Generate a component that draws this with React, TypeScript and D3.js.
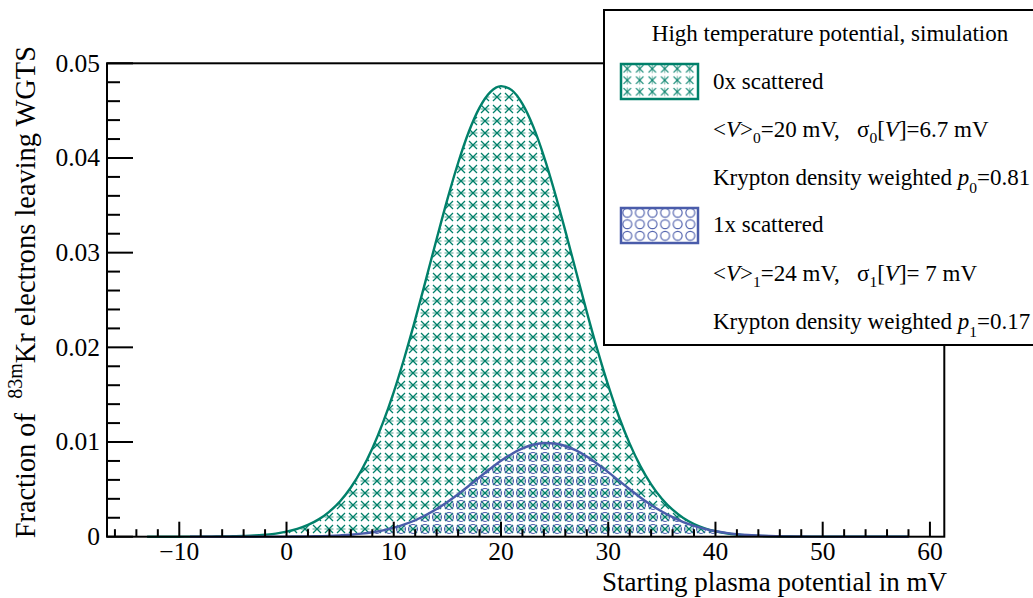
import React from "react";
import * as d3 from "d3";

// ---- data ----
const potential0 = [-13, -12, -11, -10, -9, -8, -7, -6, -5, -4, -3, -2, -1, 0, 1, 2, 3, 4, 5, 6, 7, 8, 9, 10, 11, 12, 13, 14, 15, 16, 17, 18, 19, 20, 21, 22, 23, 24, 25, 26, 27, 28, 29, 30, 31, 32, 33, 34, 35, 36, 37, 38, 39, 40, 41, 42, 43, 44, 45, 46, 47, 48, 49, 50, 51, 52, 53, 54, 55, 56, 57, 58];
const fraction0 = [0, 0, 0, 0.000002, 0.000004, 0.000008, 0.000013, 0.000024, 0.000043, 0.000074, 0.00012, 0.00021, 0.00033, 0.00053, 0.00082, 0.00124, 0.00183, 0.00265, 0.00375, 0.0052, 0.00704, 0.00932, 0.01207, 0.01528, 0.01893, 0.02292, 0.02715, 0.03145, 0.03563, 0.03947, 0.04277, 0.04532, 0.04696, 0.04759, 0.04717, 0.04572, 0.04334, 0.04018, 0.03643, 0.0323, 0.02801, 0.02375, 0.0197, 0.01598, 0.01267, 0.00983, 0.00746, 0.00553, 0.00401, 0.00285, 0.00198, 0.00134, 0.00089, 0.00058, 0.00037, 0.00023, 0.00014, 0.000082, 0.000048, 0.000027, 0.000015, 0.000008, 0.000004, 0.000002, 0, 0, 0, 0, 0, 0, 0, 0];
const potential1 = [-9, -8, -7, -6, -5, -4, -3, -2, -1, 0, 1, 2, 3, 4, 5, 6, 7, 8, 9, 10, 11, 12, 13, 14, 15, 16, 17, 18, 19, 20, 21, 22, 23, 24, 25, 26, 27, 28, 29, 30, 31, 32, 33, 34, 35, 36, 37, 38, 39, 40, 41, 42, 43, 44, 45, 46, 47, 48, 49, 50, 51, 52, 53, 54, 55, 56, 57, 58];
const fraction1 = [0, 0, 0, 0, 0, 0, 0.000002, 0.000003, 0.000006, 0.000011, 0.000019, 0.000033, 0.000054, 0.000087, 0.00014, 0.00021, 0.00032, 0.00047, 0.00067, 0.00095, 0.0013, 0.00174, 0.00229, 0.00293, 0.00367, 0.00449, 0.00537, 0.00628, 0.00717, 0.00801, 0.00874, 0.00932, 0.00971, 0.00989, 0.00984, 0.00958, 0.00911, 0.00846, 0.00768, 0.00682, 0.00591, 0.00501, 0.00415, 0.00336, 0.00266, 0.00206, 0.00155, 0.00115, 0.00083, 0.00058, 0.0004, 0.00027, 0.00018, 0.00012, 0.000072, 0.000045, 0.000027, 0.000016, 0.000009, 0.000005, 0.000003, 0.000002, 0, 0, 0, 0, 0, 0];

const xTickValues = [-10, 0, 10, 20, 30, 40, 50, 60];
const xTickLabels = ["\u221210", "0", "10", "20", "30", "40", "50", "60"];
const yTickValues = [0, 0.01, 0.02, 0.03, 0.04, 0.05];
const yTickLabels = ["0", "0.01", "0.02", "0.03", "0.04", "0.05"];

const X_DOMAIN: [number, number] = [-16.74, 61.34];
const Y_DOMAIN: [number, number] = [0, 0.05];

// ---- layout / style ----
const W = 1033;
const H = 598;
const M = { left: 107, right: 944.3, top: 63.3, bottom: 536.7 };
const GREEN = "#00806a";
const GREEN_LIGHT = "#7fbcae";
const BLUE = "#4a5caa";
const FONT = "'Liberation Serif', 'Times New Roman', serif";

type P = [number, number];

export default function App() {
  const x = d3.scaleLinear().domain(X_DOMAIN).range([M.left, M.right]);
  const y = d3.scaleLinear().domain(Y_DOMAIN).range([M.bottom, M.top]);

  const pts0: P[] = potential0.map((p, i) => [p, fraction0[i]]);
  const pts1: P[] = potential1.map((p, i) => [p, fraction1[i]]);

  const area = d3
    .area<P>()
    .x((d) => x(d[0]))
    .y0(y(0))
    .y1((d) => y(d[1]))
    .curve(d3.curveMonotoneX);
  const line = d3
    .line<P>()
    .x((d) => x(d[0]))
    .y((d) => y(d[1]))
    .curve(d3.curveMonotoneX);

  const xMinor = d3.range(-16, 61, 2).filter((v) => v % 10 !== 0);
  const yMinor = d3.range(0, 51, 2).map((v) => v / 1000).filter((v, i) => i % 5 !== 0);

  const tickFont = 25.5;
  const xTitleFont = 27;
  const yTitleFont = 28.4;
  const legFont = 23;
  const subFont = 15.5;

  const legX = 713;

  return (
    <svg
      width={W}
      height={H}
      style={{ position: "absolute", left: 0, top: 0, background: "#fff" }}
      fontFamily={FONT}
    >
      <defs>
        <pattern id="pGreen" patternUnits="userSpaceOnUse" width={12} height={12} x={-1} y={-5}>
          <line x1={1.5} y1={6} x2={10.5} y2={6} stroke={GREEN_LIGHT} strokeWidth={1.4} />
          <line x1={2} y1={2} x2={10} y2={10} stroke={GREEN} strokeWidth={1.2} />
          <line x1={10} y1={2} x2={2} y2={10} stroke={GREEN} strokeWidth={1.2} />
        </pattern>
        <pattern id="pBlue" patternUnits="userSpaceOnUse" width={12} height={12} x={-1} y={-5}>
          <circle cx={6} cy={6} r={4.5} fill="none" stroke={BLUE} strokeWidth={1.1} />
        </pattern>
        <pattern id="pGreenL" patternUnits="userSpaceOnUse" width={12.5} height={11.5} x={621} y={63}>
          <line x1={6.25} y1={1.5} x2={6.25} y2={10} stroke={GREEN_LIGHT} strokeWidth={1.2} />
          <line x1={2.5} y1={2} x2={10} y2={9.5} stroke={GREEN} strokeWidth={1.1} />
          <line x1={10} y1={2} x2={2.5} y2={9.5} stroke={GREEN} strokeWidth={1.1} />
        </pattern>
        <pattern id="pBlueL" patternUnits="userSpaceOnUse" width={12.6} height={11.5} x={621} y={207}>
          <circle cx={6.3} cy={5.75} r={4.5} fill="none" stroke={BLUE} strokeWidth={1.1} />
        </pattern>
      </defs>

      {/* fills and curves */}
      <path d={area(pts0) || ""} fill="url(#pGreen)" stroke="none" />
      <path d={line(pts0) || ""} fill="none" stroke={GREEN} strokeWidth={2.4} />
      <path d={area(pts1) || ""} fill="url(#pBlue)" stroke="none" />
      <path d={line(pts1) || ""} fill="none" stroke={BLUE} strokeWidth={2.4} />

      {/* frame */}
      <rect
        x={M.left}
        y={M.top}
        width={M.right - M.left}
        height={M.bottom - M.top}
        fill="none"
        stroke="#000"
        strokeWidth={2}
      />

      {/* x ticks */}
      {xTickValues.map((v) => (
        <line key={"xM" + v} x1={x(v)} x2={x(v)} y1={M.bottom} y2={M.bottom - 15} stroke="#000" strokeWidth={2} />
      ))}
      {xMinor.map((v) => (
        <line key={"xm" + v} x1={x(v)} x2={x(v)} y1={M.bottom} y2={M.bottom - 7.5} stroke="#000" strokeWidth={2} />
      ))}
      {xTickValues.map((v, i) => (
        <text key={"xl" + v} x={x(v)} y={560} fontSize={tickFont} textAnchor="middle" fill="#000">
          {xTickLabels[i]}
        </text>
      ))}

      {/* y ticks */}
      {yTickValues.map((v) => (
        <line key={"yM" + v} x1={M.left} x2={M.left + 26} y1={y(v)} y2={y(v)} stroke="#000" strokeWidth={2} />
      ))}
      {yMinor.map((v) => (
        <line key={"ym" + v} x1={M.left} x2={M.left + 13} y1={y(v)} y2={y(v)} stroke="#000" strokeWidth={2} />
      ))}
      {yTickValues.map((v, i) => (
        <text key={"yl" + v} x={100} y={y(v)} dy="0.33em" fontSize={tickFont} textAnchor="end" fill="#000">
          {yTickLabels[i]}
        </text>
      ))}

      {/* axis titles */}
      <text x={947} y={591} fontSize={xTitleFont} textAnchor="end" fill="#000">
        Starting plasma potential in mV
      </text>
      <text
        transform="translate(35,46) rotate(-90)"
        fontSize={yTitleFont}
        textAnchor="end"
        fill="#000"
        style={{ whiteSpace: "pre" }}
      >
        <tspan>{"Fraction of  "}</tspan>
        <tspan dy={-13} fontSize={20}>83m</tspan>
        <tspan dy={13}>Kr electrons leaving WGTS</tspan>
      </text>

      {/* legend */}
      <rect x={604} y={10} width={440} height={335} fill="#fff" stroke="#000" strokeWidth={2} />
      <text x={830} y={41} fontSize={legFont} textAnchor="middle" fill="#000">
        High temperature potential, simulation
      </text>

      <rect x={621} y={64} width={77} height={35} fill="url(#pGreenL)" stroke={GREEN} strokeWidth={2.5} />
      <text x={legX} y={89} fontSize={legFont} fill="#000">0x scattered</text>
      <text x={legX} y={137} fontSize={legFont} fill="#000" style={{ whiteSpace: "pre" }}>
        <tspan>{"<"}</tspan>
        <tspan fontStyle="italic">V</tspan>
        <tspan>{">"}</tspan>
        <tspan dy={6} fontSize={subFont}>0</tspan>
        <tspan dy={-6}>{"=20 mV,   \u03c3"}</tspan>
        <tspan dy={6} fontSize={subFont}>0</tspan>
        <tspan dy={-6}>[</tspan>
        <tspan fontStyle="italic">V</tspan>
        <tspan>]=6.7 mV</tspan>
      </text>
      <text x={legX} y={185} fontSize={legFont} fill="#000" style={{ whiteSpace: "pre" }}>
        <tspan>{"Krypton density weighted "}</tspan>
        <tspan fontStyle="italic">p</tspan>
        <tspan dy={8} fontSize={subFont}>0</tspan>
        <tspan dy={-8}>=0.81</tspan>
      </text>

      <rect x={621} y={208} width={77} height={35} fill="url(#pBlueL)" stroke={BLUE} strokeWidth={2.5} />
      <text x={legX} y={232} fontSize={legFont} fill="#000">1x scattered</text>
      <text x={legX} y={281} fontSize={legFont} fill="#000" style={{ whiteSpace: "pre" }}>
        <tspan>{"<"}</tspan>
        <tspan fontStyle="italic">V</tspan>
        <tspan>{">"}</tspan>
        <tspan dy={6} fontSize={subFont}>1</tspan>
        <tspan dy={-6}>{"=24 mV,   \u03c3"}</tspan>
        <tspan dy={6} fontSize={subFont}>1</tspan>
        <tspan dy={-6}>[</tspan>
        <tspan fontStyle="italic">V</tspan>
        <tspan>]= 7 mV</tspan>
      </text>
      <text x={legX} y={329} fontSize={legFont} fill="#000" style={{ whiteSpace: "pre" }}>
        <tspan>{"Krypton density weighted "}</tspan>
        <tspan fontStyle="italic">p</tspan>
        <tspan dy={8} fontSize={subFont}>1</tspan>
        <tspan dy={-8}>=0.17</tspan>
      </text>
    </svg>
  );
}
